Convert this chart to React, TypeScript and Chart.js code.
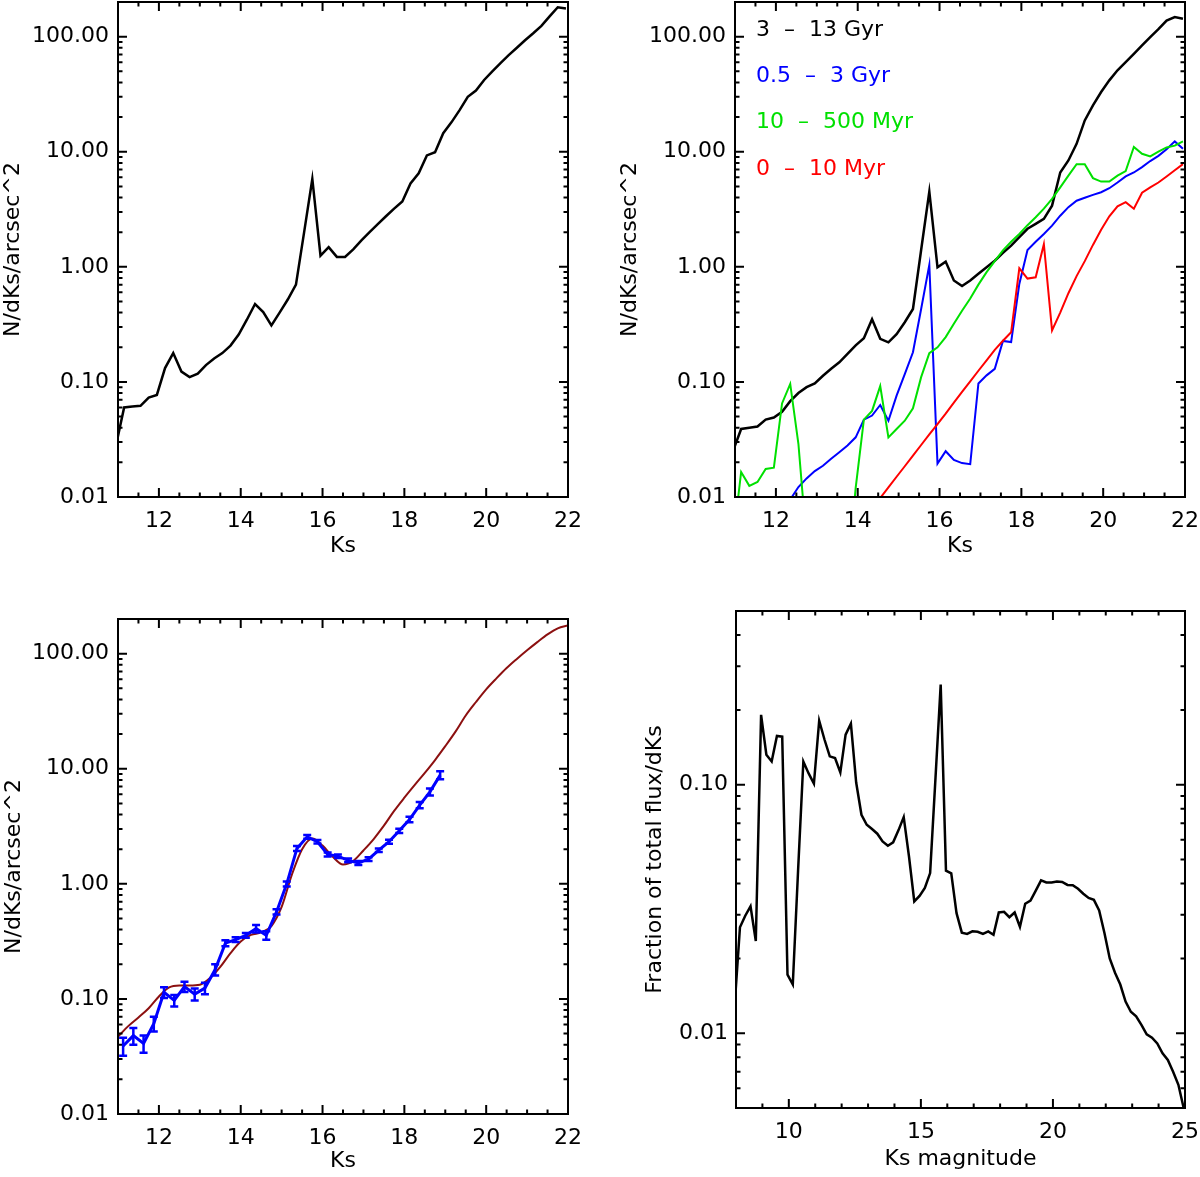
import React, { useEffect, useRef } from 'react';
import { Chart, registerables } from 'chart.js';

Chart.register(...registerables);

const FONT_FAMILY = '"DejaVu Sans", sans-serif';
const FONT_SIZE = 22;
const LINE_H = FONT_SIZE * 1.2;
const MAJOR = 9;
const MINOR = 4.5;

Chart.defaults.font.family = FONT_FAMILY;
Chart.defaults.font.size = FONT_SIZE;
Chart.defaults.color = '#000';

// 0.2 mag bins used by both top panels
const KS_BINS = [
  10.95, 11.15, 11.35, 11.55, 11.75, 11.95, 12.15, 12.35, 12.55, 12.75,
  12.95, 13.15, 13.35, 13.55, 13.75, 13.95, 14.15, 14.35, 14.55, 14.75,
  14.95, 15.15, 15.35, 15.55, 15.75, 15.95, 16.15, 16.35, 16.55, 16.75,
  16.95, 17.15, 17.35, 17.55, 17.75, 17.95, 18.15, 18.35, 18.55, 18.75,
  18.95, 19.15, 19.35, 19.55, 19.75, 19.95, 20.15, 20.35, 20.55, 20.75,
  20.95, 21.15, 21.35, 21.55, 21.75, 21.95,
];

// top-left: all stars
const N_TOTAL = [
  0.028, 0.060, 0.061, 0.062, 0.073, 0.077, 0.132, 0.178, 0.123, 0.110,
  0.118, 0.140, 0.160, 0.178, 0.207, 0.258, 0.347, 0.475, 0.405, 0.310,
  0.400, 0.520, 0.700, 2.00, 5.80, 1.25, 1.48, 1.22, 1.22, 1.42,
  1.70, 2.00, 2.35, 2.75, 3.20, 3.70, 5.30, 6.50, 9.30, 9.90,
  14.5, 18.0, 23.0, 30.0, 34.0, 42.0, 50.0, 59.0, 69.0, 80.0,
  93.0, 107, 124, 150, 180, 176,
];

// top-right: split by age
const N_OLD = [
  0.025, 0.039, 0.040, 0.041, 0.047, 0.049, 0.055, 0.068, 0.080, 0.090,
  0.097, 0.113, 0.130, 0.148, 0.175, 0.208, 0.240, 0.350, 0.237, 0.221,
  0.260, 0.330, 0.430, 1.40, 4.50, 0.99, 1.11, 0.76, 0.68, 0.76,
  0.87, 0.99, 1.13, 1.32, 1.53, 1.81, 2.14, 2.36, 2.61, 3.40,
  6.60, 8.40, 11.7, 18.7, 25.3, 33.0, 41.7, 51.0, 60.0, 71.0,
  84.0, 99.0, 116, 138, 148, 143,
];
const N_INTER = [
  null, null, null, null, null, null, null, 0.0095, 0.0122, 0.0145,
  0.0168, 0.0187, 0.0215, 0.0245, 0.028, 0.033, 0.047, 0.051, 0.063, 0.046,
  0.076, 0.117, 0.181, 0.43, 1.04, 0.0195, 0.025, 0.021, 0.0197, 0.0193,
  0.097, 0.114, 0.130, 0.227, 0.222, 0.71, 1.40, 1.65, 1.93, 2.28,
  2.78, 3.30, 3.75, 3.98, 4.22, 4.45, 4.82, 5.40, 6.10, 6.60,
  7.35, 8.30, 9.20, 10.5, 12.3, 10.6,
];
const N_YOUNG = [
  0.004, 0.0165, 0.0125, 0.0135, 0.0175, 0.018, 0.065, 0.096, 0.029, 0.004,
  null, null, null, null, 0.002, 0.012, 0.047, 0.056, 0.092, 0.033,
  0.039, 0.046, 0.059, 0.110, 0.178, 0.200, 0.245, 0.320, 0.415, 0.530,
  0.70, 0.90, 1.12, 1.39, 1.65, 1.93, 2.30, 2.70, 3.20, 3.90,
  4.90, 6.20, 7.80, 7.80, 5.90, 5.50, 5.50, 6.20, 6.80, 11.0,
  9.60, 9.10, 10.0, 10.9, 11.3, 12.3,
];
const N_VYOUNG = [
  null, null, null, null, null, null, null, null, null, null,
  null, null, null, null, null, null, null, 0.0079, 0.0098, 0.0121,
  0.0150, 0.0185, 0.0229, 0.0283, 0.035, 0.043, 0.053, 0.066, 0.082, 0.101,
  0.125, 0.154, 0.190, 0.228, 0.270, 0.97, 0.79, 0.81, 1.57, 0.28,
  0.40, 0.59, 0.83, 1.12, 1.55, 2.10, 2.75, 3.35, 3.65, 3.20,
  4.40, 4.90, 5.40, 6.10, 6.90, 7.80,
];
const AGE_LABELS = ['3  \u2013  13 Gyr', '0.5  \u2013  3 Gyr', '10  \u2013  500 Myr', '0  \u2013  10 Myr'];
const AGE_COLORS = ['#000000', '#0000ff', '#00e000', '#ff0000'];

// bottom-left: observed counts with errors, and the model
const OBS_KS = [
  11.125, 11.375, 11.625, 11.875, 12.125, 12.375, 12.625, 12.875,
  13.125, 13.375, 13.625, 13.875, 14.125, 14.375, 14.625, 14.875,
  15.125, 15.375, 15.625, 15.875, 16.125, 16.375, 16.625, 16.875,
  17.125, 17.375, 17.625, 17.875, 18.125, 18.375, 18.625, 18.875,
];
const OBS_N = [
  0.039, 0.048, 0.041, 0.061, 0.114, 0.097, 0.128, 0.110,
  0.124, 0.180, 0.305, 0.328, 0.357, 0.408, 0.357, 0.57,
  1.00, 2.03, 2.56, 2.32, 1.80, 1.74, 1.60, 1.52,
  1.64, 1.96, 2.32, 2.89, 3.62, 4.83, 6.30, 8.80,
];
const OBS_ERR = [
  0.007, 0.008, 0.007, 0.009, 0.012, 0.011, 0.013, 0.013,
  0.014, 0.020, 0.018, 0.015, 0.017, 0.030, 0.030, 0.030,
  0.05, 0.10, 0.10, 0.08, 0.07, 0.06, 0.06, 0.06,
  0.06, 0.07, 0.09, 0.12, 0.20, 0.30, 0.45, 0.70,
];
const MODEL_KS = [
  11, 11.25, 11.5, 11.75, 12, 12.25, 12.5, 12.75, 13, 13.25,
  13.5, 13.75, 14, 14.25, 14.5, 14.75, 15, 15.25, 15.5, 15.75,
  16, 16.25, 16.5, 16.75, 17, 17.25, 17.5, 17.75, 18, 18.25,
  18.5, 18.75, 19, 19.25, 19.5, 19.75, 20, 20.25, 20.5, 20.75,
  21, 21.25, 21.5, 21.75, 22,
];
const MODEL_N = [
  0.047, 0.058, 0.069, 0.083, 0.105, 0.126, 0.131, 0.131, 0.133, 0.152,
  0.19, 0.25, 0.315, 0.36, 0.378, 0.43, 0.63, 1.2, 2.0, 2.48,
  2.15, 1.72, 1.47, 1.58, 1.95, 2.45, 3.2, 4.3, 5.6, 7.2,
  9.2, 11.9, 15.7, 21, 29, 38, 49, 61, 75, 90,
  107, 126, 147, 166, 176,
];
const OBS_COLOR = '#0000ff';
const MODEL_COLOR = '#8c1010';

// bottom-right: fraction of total flux
const FLUX_KS = [
  7.95, 8.15, 8.35, 8.55, 8.75, 8.95, 9.15, 9.35, 9.55, 9.75,
  9.95, 10.15, 10.35, 10.55, 10.75, 10.95, 11.15, 11.35, 11.55, 11.75,
  11.95, 12.15, 12.35, 12.55, 12.75, 12.95, 13.15, 13.35, 13.55, 13.75,
  13.95, 14.15, 14.35, 14.55, 14.75, 14.95, 15.15, 15.35, 15.55, 15.75,
  15.95, 16.15, 16.35, 16.55, 16.75, 16.95, 17.15, 17.35, 17.55, 17.75,
  17.95, 18.15, 18.35, 18.55, 18.75, 18.95, 19.15, 19.35, 19.55, 19.75,
  19.95, 20.15, 20.35, 20.55, 20.75, 20.95, 21.15, 21.35, 21.55, 21.75,
  21.95, 22.15, 22.35, 22.55, 22.75, 22.95, 23.15, 23.35, 23.55, 23.75,
  23.95, 24.15, 24.35, 24.55, 24.75, 24.95,
];
const FLUX_FRAC = [
  0.013, 0.0267, 0.0297, 0.0324, 0.0235, 0.191, 0.132, 0.124, 0.157, 0.156,
  0.0172, 0.0157, 0.045, 0.124, 0.111, 0.101, 0.181, 0.152, 0.130, 0.128,
  0.112, 0.159, 0.176, 0.102, 0.0757, 0.069, 0.0663, 0.0635, 0.0591, 0.0568,
  0.0586, 0.0655, 0.0741, 0.0514, 0.0339, 0.0357, 0.0384, 0.0441, 0.105, 0.253,
  0.0451, 0.044, 0.0304, 0.0254, 0.0251, 0.0257, 0.0256, 0.0251, 0.0257, 0.0249,
  0.0306, 0.0308, 0.0293, 0.0306, 0.0268, 0.0332, 0.0342, 0.0375, 0.0412, 0.0404,
  0.0404, 0.0408, 0.0406, 0.0395, 0.0394, 0.0381, 0.0364, 0.0350, 0.0344, 0.0312,
  0.0253, 0.0200, 0.0175, 0.0157, 0.0134, 0.0122, 0.0117, 0.0108, 0.0099, 0.0096,
  0.0091, 0.0083, 0.0078, 0.0070, 0.0062, 0.0050,
];

const KS_TICKS = [12, 14, 16, 18, 20, 22];
const MAG_TICKS = [10, 15, 20, 25];
const N_TICKS = [0.01, 0.1, 1, 10, 100];
const FLUX_TICKS = [0.01, 0.1];

const series = (xs: number[], ys: (number | null)[]) => xs.map((x, i) => ({ x, y: ys[i] }));

const line = (data: any[], color: string, width = 2, extra: any = {}) => ({
  data,
  borderColor: color,
  borderWidth: width,
  pointRadius: 0,
  fill: false,
  tension: 0,
  clip: 0,
  ...extra,
});

type Rect = { left: number; top: number; width: number; height: number };
type Frame = { left: number; top: number; right: number; bottom: number };

interface PanelProps {
  box: Rect; // canvas on the page
  frame: Frame; // plot frame on the page
  datasets: any[];
  xRange: [number, number];
  xTicks: number[];
  xMinor: number;
  xTitle: string;
  xTitleY: number;
  yRange: [number, number];
  yTicks: number[];
  yTitle: string;
  yTitleX: number;
  yLabelGap: number;
  extras?: (chart: Chart) => void;
}

const Panel: React.FC<PanelProps> = (props) => {
  const canvasRef = useRef<HTMLCanvasElement>(null);

  useEffect(() => {
    const canvas = canvasRef.current;
    if (!canvas) return;
    const { box, frame } = props;
    const yWidth = frame.left - box.left;
    const xHeight = props.xTitleY - frame.bottom + LINE_H / 2;
    const padTop = frame.top - box.top;
    const padRight = box.left + box.width - frame.right;
    const padBottom = box.top + box.height - frame.bottom - xHeight;

    // IDL style box with inward ticks on all four sides
    const idlFrame = {
      id: 'idlFrame',
      afterDraw(chart: any) {
        const { ctx, chartArea: a } = chart;
        const xs = chart.scales.x;
        const ys = chart.scales.y;
        const [x0, x1] = props.xRange;
        const [y0, y1] = props.yRange;
        ctx.save();
        ctx.strokeStyle = '#000';
        ctx.lineWidth = 2;
        ctx.beginPath();
        for (let k = Math.ceil(x0 / props.xMinor - 1e-9); k * props.xMinor <= x1 + 1e-9; k++) {
          const v = k * props.xMinor;
          const len = props.xTicks.some((t) => Math.abs(t - v) < 1e-6) ? MAJOR : MINOR;
          const px = xs.getPixelForValue(v);
          ctx.moveTo(px, a.bottom);
          ctx.lineTo(px, a.bottom - len);
          ctx.moveTo(px, a.top);
          ctx.lineTo(px, a.top + len);
        }
        for (let e = Math.floor(Math.log10(y0)); e <= Math.ceil(Math.log10(y1)); e++) {
          for (let m = 1; m <= 9; m++) {
            const v = m * Math.pow(10, e);
            if (v < y0 * 0.999 || v > y1 * 1.001) continue;
            const len = m === 1 ? MAJOR : MINOR;
            const py = ys.getPixelForValue(v);
            ctx.moveTo(a.left, py);
            ctx.lineTo(a.left + len, py);
            ctx.moveTo(a.right, py);
            ctx.lineTo(a.right - len, py);
          }
        }
        ctx.stroke();
        ctx.strokeRect(a.left, a.top, a.right - a.left, a.bottom - a.top);
        ctx.restore();
        if (props.extras) props.extras(chart);
      },
    };

    const chart = new Chart(canvas, {
      type: 'line',
      data: { datasets: props.datasets },
      options: {
        responsive: false,
        animation: false,
        events: [],
        layout: { padding: { left: 0, top: padTop, right: padRight, bottom: padBottom } },
        plugins: { legend: { display: false }, tooltip: { enabled: false } },
        scales: {
          x: {
            type: 'linear',
            bounds: 'data',
            min: props.xRange[0],
            max: props.xRange[1],
            grid: { display: false, drawTicks: false },
            border: { display: false },
            ticks: {
              padding: 24 - LINE_H / 2,
              maxRotation: 0,
              autoSkip: false,
              color: '#000',
              font: { size: FONT_SIZE },
              callback: (v: any) => String(v),
            },
            title: { display: true, text: props.xTitle, padding: 0, color: '#000', font: { size: FONT_SIZE } },
            afterBuildTicks: (s: any) => {
              s.ticks = props.xTicks.map((value) => ({ value }));
            },
            afterFit: (s: any) => {
              s.height = xHeight;
              s.paddingLeft = 0;
              s.paddingRight = 0;
            },
          },
          y: {
            type: 'logarithmic',
            bounds: 'data',
            min: props.yRange[0],
            max: props.yRange[1],
            grid: { display: false, drawTicks: false },
            border: { display: false },
            ticks: {
              padding: props.yLabelGap,
              autoSkip: false,
              color: '#000',
              font: { size: FONT_SIZE },
              callback: (v: any) => Number(v).toFixed(2),
            },
            title: {
              display: true,
              text: props.yTitle,
              color: '#000',
              font: { size: FONT_SIZE },
              padding: { top: props.yTitleX - box.left - LINE_H / 2, bottom: 0 },
            },
            afterBuildTicks: (s: any) => {
              s.ticks = props.yTicks.map((value) => ({ value }));
            },
            afterFit: (s: any) => {
              s.width = yWidth;
              s.paddingTop = 0;
              s.paddingBottom = 0;
            },
          },
        },
      } as any,
      plugins: [idlFrame],
    });

    return () => {
      chart.destroy();
    };
  }, []);

  return (
    <canvas
      ref={canvasRef}
      width={props.box.width}
      height={props.box.height}
      style={{ position: 'absolute', left: props.box.left, top: props.box.top, display: 'block' }}
    />
  );
};

const drawAgeLegend = (chart: any) => {
  const { ctx } = chart;
  ctx.save();
  ctx.font = `${FONT_SIZE}px ${FONT_FAMILY}`;
  ctx.textAlign = 'left';
  ctx.textBaseline = 'middle';
  AGE_LABELS.forEach((label, i) => {
    ctx.fillStyle = AGE_COLORS[i];
    ctx.fillText(label, 156, 30 + i * 46.3);
  });
  ctx.restore();
};

const drawErrorBars = (chart: any) => {
  const { ctx, chartArea: a } = chart;
  const xs = chart.scales.x;
  const ys = chart.scales.y;
  const cap = 4;
  ctx.save();
  ctx.beginPath();
  ctx.rect(a.left, a.top, a.right - a.left, a.bottom - a.top);
  ctx.clip();
  ctx.strokeStyle = OBS_COLOR;
  ctx.lineWidth = 2.5;
  ctx.beginPath();
  OBS_KS.forEach((k, i) => {
    const px = xs.getPixelForValue(k);
    const lo = ys.getPixelForValue(OBS_N[i] - OBS_ERR[i]);
    const hi = ys.getPixelForValue(OBS_N[i] + OBS_ERR[i]);
    ctx.moveTo(px, lo);
    ctx.lineTo(px, hi);
    ctx.moveTo(px - cap, lo);
    ctx.lineTo(px + cap, lo);
    ctx.moveTo(px - cap, hi);
    ctx.lineTo(px + cap, hi);
  });
  ctx.stroke();
  ctx.restore();
};

export default function App() {
  const nTitle = 'N/dKs/arcsec^2';
  return (
    <div
      style={{
        position: 'absolute',
        left: 0,
        top: 0,
        width: 1200,
        height: 1177,
        background: '#fff',
        overflow: 'hidden',
      }}
    >
      <Panel
        box={{ left: 0, top: 0, width: 600, height: 590 }}
        frame={{ left: 118, top: 2, right: 568, bottom: 497 }}
        datasets={[line(series(KS_BINS, N_TOTAL), '#000000', 2.5)]}
        xRange={[11, 22]}
        xTicks={KS_TICKS}
        xMinor={0.5}
        xTitle="Ks"
        xTitleY={546}
        yRange={[0.01, 200]}
        yTicks={N_TICKS}
        yTitle={nTitle}
        yTitleX={13}
        yLabelGap={9}
      />
      <Panel
        box={{ left: 600, top: 0, width: 600, height: 590 }}
        frame={{ left: 735, top: 2, right: 1185, bottom: 497 }}
        datasets={[
          line(series(KS_BINS, N_VYOUNG), AGE_COLORS[3]),
          line(series(KS_BINS, N_YOUNG), AGE_COLORS[2]),
          line(series(KS_BINS, N_INTER), AGE_COLORS[1]),
          line(series(KS_BINS, N_OLD), AGE_COLORS[0], 2.5),
        ]}
        xRange={[11, 22]}
        xTicks={KS_TICKS}
        xMinor={0.5}
        xTitle="Ks"
        xTitleY={546}
        yRange={[0.01, 200]}
        yTicks={N_TICKS}
        yTitle={nTitle}
        yTitleX={630}
        yLabelGap={9}
        extras={drawAgeLegend}
      />
      <Panel
        box={{ left: 0, top: 590, width: 600, height: 587 }}
        frame={{ left: 118, top: 619, right: 568, bottom: 1114 }}
        datasets={[
          line(series(OBS_KS, OBS_N), OBS_COLOR, 3),
          line(series(MODEL_KS, MODEL_N), MODEL_COLOR, 2, { cubicInterpolationMode: 'monotone' }),
        ]}
        xRange={[11, 22]}
        xTicks={KS_TICKS}
        xMinor={0.5}
        xTitle="Ks"
        xTitleY={1161}
        yRange={[0.01, 200]}
        yTicks={N_TICKS}
        yTitle={nTitle}
        yTitleX={14}
        yLabelGap={9}
        extras={drawErrorBars}
      />
      <Panel
        box={{ left: 600, top: 590, width: 600, height: 587 }}
        frame={{ left: 736, top: 611, right: 1185, bottom: 1108 }}
        datasets={[line(series(FLUX_KS, FLUX_FRAC), '#000000', 2.5)]}
        xRange={[8, 25]}
        xTicks={MAG_TICKS}
        xMinor={1}
        xTitle="Ks magnitude"
        xTitleY={1159}
        yRange={[0.005, 0.5]}
        yTicks={FLUX_TICKS}
        yTitle="Fraction of total flux/dKs"
        yTitleX={655}
        yLabelGap={8}
      />
    </div>
  );
}
